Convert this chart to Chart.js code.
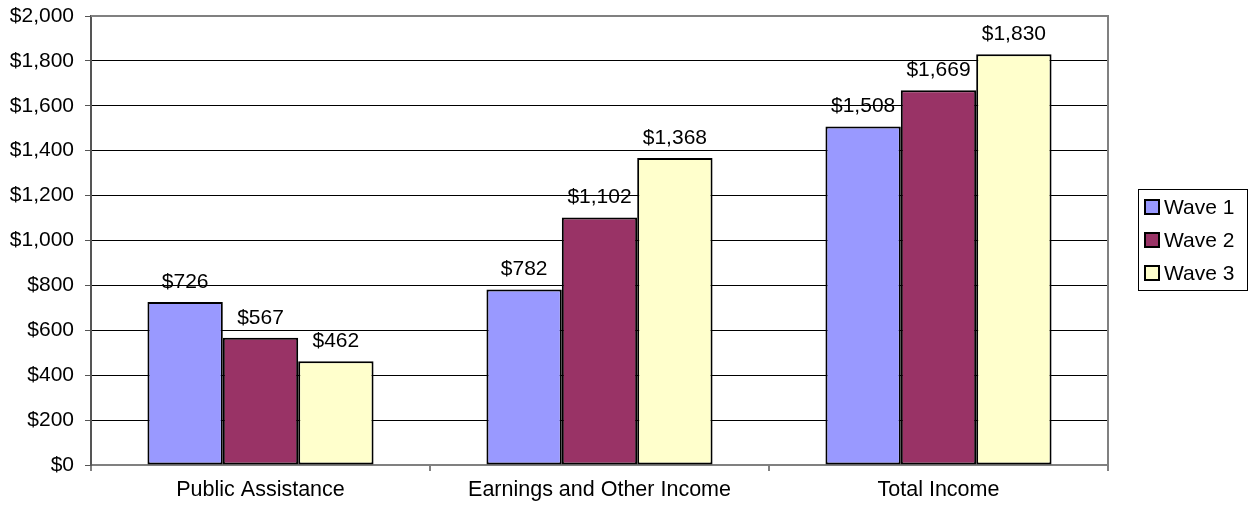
<!DOCTYPE html>
<html>
<head>
<meta charset="utf-8">
<script src="https://cdn.jsdelivr.net/npm/chart.js@4/dist/chart.umd.min.js"></script>
<style>
	html, body { margin: 0; padding: 0; background: #fff; }
	canvas { display: block; }
</style>
</head>
<body>
<canvas id="incomeChart" width="1254" height="510"></canvas>
<script>
const categories = ["Public Assistance", "Earnings and Other Income", "Total Income"];
const waveNames = ["Wave 1", "Wave 2", "Wave 3"];
const wave1 = [726, 782, 1508];
const wave2 = [567, 1102, 1669];
const wave3 = [462, 1368, 1830];
const waveColors = ["#9999FF", "#993366", "#FFFFCC"];

const FONT = "'Liberation Sans', Arial, sans-serif";
const money = v => "$" + Number(v).toLocaleString("en-US");

// value labels above each bar plus the frame and the boxed legend on the right
const extras = {
	id: "extras",
	afterDatasetsDraw(chart) {
		const ctx = chart.ctx;
		ctx.save();
		ctx.font = "21px " + FONT;
		ctx.fillStyle = "#000";
		ctx.textAlign = "center";
		ctx.textBaseline = "middle";
		chart.data.datasets.forEach((ds, i) => {
			chart.getDatasetMeta(i).data.forEach((bar, j) => {
				ctx.fillText(money(ds.data[j]), bar.x, bar.y - 20);
			});
		});
		ctx.restore();
	},
	afterDraw(chart) {
		const ctx = chart.ctx;
		const a = chart.chartArea;
		ctx.save();
		// top and right edges of the plot box
		ctx.strokeStyle = "#808080";
		ctx.lineWidth = 2;
		ctx.beginPath();
		ctx.moveTo(a.left, a.top);
		ctx.lineTo(a.right, a.top);
		ctx.lineTo(a.right, a.bottom);
		ctx.stroke();

		// legend
		const lx = 1138, ly = 189, lw = 109, lh = 101;
		ctx.lineWidth = 1;
		ctx.strokeStyle = "#000";
		ctx.strokeRect(lx + 0.5, ly + 0.5, lw, lh);
		ctx.font = "21px " + FONT;
		ctx.textAlign = "left";
		ctx.textBaseline = "middle";
		waveNames.forEach((name, i) => {
			const cy = ly + 18 + i * 33;
			ctx.fillStyle = waveColors[i];
			ctx.fillRect(lx + 7, cy - 7, 14, 14);
			ctx.lineWidth = 2;
			ctx.strokeStyle = "#000";
			ctx.strokeRect(lx + 7, cy - 7, 14, 14);
			ctx.fillStyle = "#000";
			ctx.fillText(name, lx + 26, cy + 1);
		});
		ctx.restore();
	}
};

new Chart(document.getElementById("incomeChart"), {
	type: "bar",
	data: {
		labels: categories,
		datasets: [wave1, wave2, wave3].map((d, i) => ({
			label: waveNames[i],
			data: d,
			backgroundColor: waveColors[i],
			borderColor: "#000",
			borderWidth: 2,
			borderSkipped: false,
			categoryPercentage: 0.667,
			barPercentage: 1.0
		}))
	},
	options: {
		responsive: false,
		animation: false,
		layout: { padding: { top: 16, right: 146, left: 0, bottom: 0 } },
		plugins: {
			legend: { display: false },
			tooltip: { enabled: false }
		},
		scales: {
			x: {
				afterFit: s => { s.height = 45; },
				grid: {
					offset: true,
					drawOnChartArea: false,
					drawTicks: true,
					tickLength: 6,
					color: "#808080",
					lineWidth: 2
				},
				border: { color: "#808080", width: 2 },
				ticks: {
					color: "#000",
					font: { family: FONT, size: 21.5 },
					padding: 6
				}
			},
			y: {
				min: 0,
				max: 2000,
				afterFit: s => {
					s.width = 91;
					s.paddingTop = 0;
					s.paddingBottom = 0;
				},
				grid: {
					color: ctx => ctx.index === 10 ? "#808080" : "#000",
					lineWidth: 1,
					tickLength: 6,
					tickColor: "#555"
				},
				border: { color: "#555", width: 2 },
				ticks: {
					stepSize: 200,
					color: "#000",
					font: { family: FONT, size: 21 },
					padding: 11,
					callback: v => money(v)
				}
			}
		}
	},
	plugins: [extras]
});
</script>
</body>
</html>
